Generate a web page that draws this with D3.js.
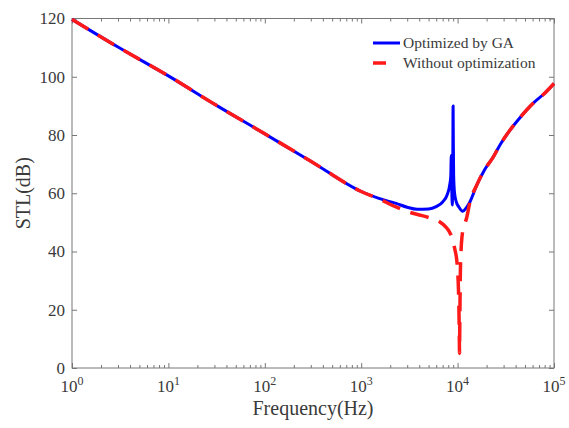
<!DOCTYPE html>
<html>
<head>
<meta charset="utf-8">
<script src="https://cdn.jsdelivr.net/npm/d3@7"></script>
<style>
  html, body { margin: 0; padding: 0; background: #fff; }
  svg { display: block; }
  text { font-family: "Liberation Serif", "Times New Roman", serif; fill: #3a3a3a; }
</style>
</head>
<body>
<svg id="chart" width="569" height="428"></svg>
<script>
// ---- data ----
const freqOptimized = [1, 3, 10, 30, 100, 300, 1000, 1500, 2300, 3000, 3800, 5000, 6000, 7000, 7800, 8300, 8500, 8600, 8700, 8800, 8900, 8980, 9030, 9100, 9300, 9700, 10300, 11300, 12300, 13450, 15800, 19000, 23500, 28000, 35000, 43000, 52000, 63000, 77500, 100000];
const stlOptimized  = [119.7, 110.2, 100.3, 90.6, 80.4, 71, 60.6, 58.3, 56.5, 55.2, 54.5, 54.6, 55.4, 57, 59.5, 63, 66, 73, 62, 56, 64, 90, 78, 66, 60, 57, 55.3, 53.8, 55, 57.1, 62.8, 68, 72.5, 77, 81.7, 85.4, 88.6, 91.4, 93.9, 97.7];

const freqWithout = [1, 3, 10, 30, 100, 300, 1000, 1500, 2300, 3300, 4300, 5200, 6500, 7500, 8200, 8700, 9400, 9800, 10100, 10300, 10420, 10470, 10520, 10650, 10850, 11100, 11700, 12400, 13450, 15800, 19000, 23500, 28000, 35000, 43000, 52000, 63000, 77500, 100000];
const stlWithout  = [119.7, 110.2, 100.3, 90.6, 80.4, 71, 60.6, 58.2, 55.3, 53.3, 52.3, 51.5, 50.2, 48.5, 46.8, 45, 40.5, 37, 31, 22, 11, 5, 12, 30, 40, 45, 48.8, 51.5, 57.1, 62.8, 68, 72.5, 77, 81.7, 85.4, 88.6, 91.4, 93.9, 97.7];

const xMajorTicks = [1, 10, 100, 1000, 10000, 100000];
const xTickExponents = ["0", "1", "2", "3", "4", "5"];
const yTicks = [0, 20, 40, 60, 80, 100, 120];
const seriesNames = ["Optimized by GA", "Without optimization"];

// ---- layout ----
const svg = d3.select("#chart");
const pL = 72, pR = 554, pT = 18.5, pB = 368;
const x = d3.scaleLog().domain([1, 1e5]).range([pL, pR]);
const y = d3.scaleLinear().domain([0, 120]).range([pB, pT]);
const axisColor = "#777";

const minorTicks = [];
for (let d = 0; d < 5; d++) for (let m = 2; m <= 9; m++) minorTicks.push(m * Math.pow(10, d));

function styleAxis(g) {
  g.select(".domain").remove();
  g.selectAll("line").attr("stroke", axisColor).attr("stroke-width", 1);
  g.selectAll("text").remove();
}

// ticks (inward, all four sides)
svg.append("g").attr("transform", `translate(0,${pB})`)
  .call(d3.axisBottom(x).tickValues(xMajorTicks).tickSize(-5).tickFormat("")).call(styleAxis);
svg.append("g").attr("transform", `translate(0,${pB})`)
  .call(d3.axisBottom(x).tickValues(minorTicks).tickSize(-3).tickFormat("")).call(styleAxis);
svg.append("g").attr("transform", `translate(0,${pT})`)
  .call(d3.axisTop(x).tickValues(xMajorTicks).tickSize(-5).tickFormat("")).call(styleAxis);
svg.append("g").attr("transform", `translate(0,${pT})`)
  .call(d3.axisTop(x).tickValues(minorTicks).tickSize(-3).tickFormat("")).call(styleAxis);
svg.append("g").attr("transform", `translate(${pL},0)`)
  .call(d3.axisLeft(y).tickValues(yTicks).tickSize(-5).tickFormat("")).call(styleAxis);
svg.append("g").attr("transform", `translate(${pR},0)`)
  .call(d3.axisRight(y).tickValues(yTicks).tickSize(-5).tickFormat("")).call(styleAxis);

// box
svg.append("rect")
  .attr("x", pL).attr("y", pT)
  .attr("width", pR - pL).attr("height", pB - pT)
  .attr("fill", "none").attr("stroke", axisColor).attr("stroke-width", 1);

// y tick labels
svg.append("g").selectAll("text").data(yTicks).join("text")
  .attr("x", pL - 7).attr("y", d => y(d)).attr("dy", "0.35em")
  .attr("text-anchor", "end").attr("font-size", 17).text(d => d);

// x tick labels 10^n
const xl = svg.append("g").selectAll("text").data(xMajorTicks).join("text")
  .attr("x", d => x(d)).attr("y", 392).attr("text-anchor", "middle").attr("font-size", 17);
xl.append("tspan").text("10");
xl.append("tspan").attr("font-size", 12).attr("dy", -7).text((d, i) => xTickExponents[i]);

// axis titles
svg.append("text").attr("x", (pL + pR) / 2).attr("y", 415)
  .attr("text-anchor", "middle").attr("font-size", 20).text("Frequency(Hz)");
svg.append("text").attr("transform", `translate(30,${(pT + pB) / 2}) rotate(-90)`)
  .attr("text-anchor", "middle").attr("font-size", 20).text("STL(dB)");

// lines
const line = d3.line().x(d => x(d[0])).y(d => y(d[1])).curve(d3.curveMonotoneX);
const optData = freqOptimized.map((f, i) => [f, stlOptimized[i]]);
const woData = freqWithout.map((f, i) => [f, stlWithout[i]]);

svg.append("path").datum(optData).attr("d", line)
  .attr("fill", "none").attr("stroke", "#0000ff").attr("stroke-width", 3)
  .attr("stroke-linejoin", "round");
svg.append("path").datum(woData).attr("d", line)
  .attr("fill", "none").attr("stroke", "#ff1a1a").attr("stroke-width", 3.5)
  .attr("stroke-dasharray", "19,11");

// legend
const legend = svg.append("g");
const legRows = [
  { name: seriesNames[0], color: "#0000ff", dash: null, w: 3, y: 43 },
  { name: seriesNames[1], color: "#ff1a1a", dash: "13,20", w: 3.5, y: 63 }
];
legRows.forEach(r => {
  legend.append("line").attr("x1", 373).attr("x2", 400).attr("y1", r.y).attr("y2", r.y)
    .attr("stroke", r.color).attr("stroke-width", r.w)
    .attr("stroke-dasharray", r.dash);
  legend.append("text").attr("x", 403).attr("y", r.y).attr("dy", "0.35em")
    .attr("font-size", 15.5).text(r.name);
});
</script>
</body>
</html>
